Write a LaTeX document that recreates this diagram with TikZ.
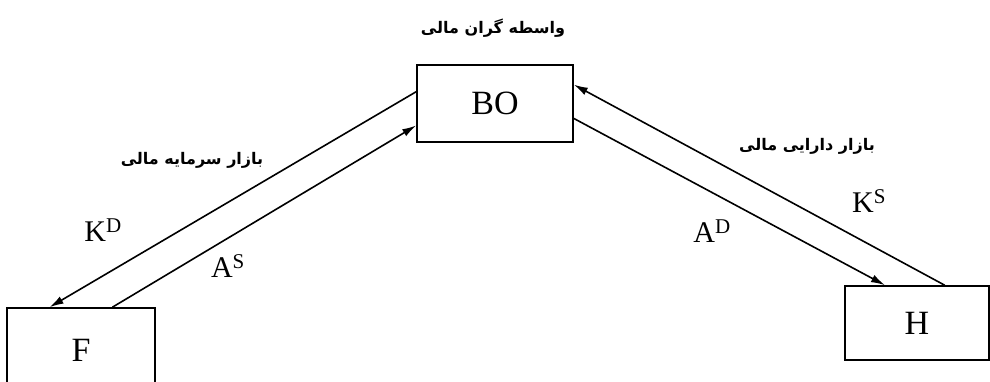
\documentclass[tikz,border=0pt]{standalone}
\usepackage{fontspec}
\setmainfont{Liberation Serif}
\newfontfamily\arabicfont[Script=Arabic]{DejaVu Sans}
\TeXXeTstate=1
\usetikzlibrary{arrows.meta,calc}
\begin{document}
\begin{tikzpicture}[x=1pt,y=-1pt,
  box/.style={draw,line width=1.6pt,inner sep=0pt,font=\fontsize{34}{36}\selectfont},
  flow/.style={line width=1.6pt,-{Latex[length=14pt,width=8pt]}},
  fa/.style={font=\arabicfont\bfseries\fontsize{16}{18}\selectfont,inner sep=0pt},
  sym/.style={font=\fontsize{30}{32}\selectfont,inner sep=0pt}]
\useasboundingbox (0,0) rectangle (990,382);
\clip (0,0) rectangle (990,382);
% agents
\node[box,minimum width=156pt,minimum height=77pt] (BO) at (495,103.5) {BO};
\node[box,minimum width=148pt,minimum height=92pt,text depth=8pt] (F) at (81,354) {F};
\node[box,minimum width=144pt,minimum height=74pt] (H) at (917,323) {H};
% flows between the agents and the intermediary
\draw[flow] ($(BO.north west)!0.35!(BO.south west)$) -- ($(F.north west)!0.29!(F.north east)$);
\draw[flow] ($(F.north west)!0.71!(F.north east)$) -- ($(BO.north west)!0.78!(BO.south west)$);
\draw[flow] ($(H.north west)!0.69!(H.north east)$) -- ($(BO.north east)!0.26!(BO.south east)$);
\draw[flow] ($(BO.north east)!0.69!(BO.south east)$) -- ($(H.north west)!0.28!(H.north east)$);
% labels
\node[fa] (t1) at (493,28) {\beginR واسطه گران مالی\endR};
\node[fa] (t2) at (192,160) {\beginR بازار سرمایه مالی\endR};
\node[fa] (t3) at (807,146) {\beginR بازار دارایی مالی\endR};
\node[sym] (kd) at (103,230) {K$^{\mathrm{D}}$};
\node[sym] (as) at (228,266) {A$^{\mathrm{S}}$};
\node[sym] (ks) at (869,201) {K$^{\mathrm{S}}$};
\node[sym] (ad) at (712,231) {A$^{\mathrm{D}}$};
\end{tikzpicture}
\end{document}
